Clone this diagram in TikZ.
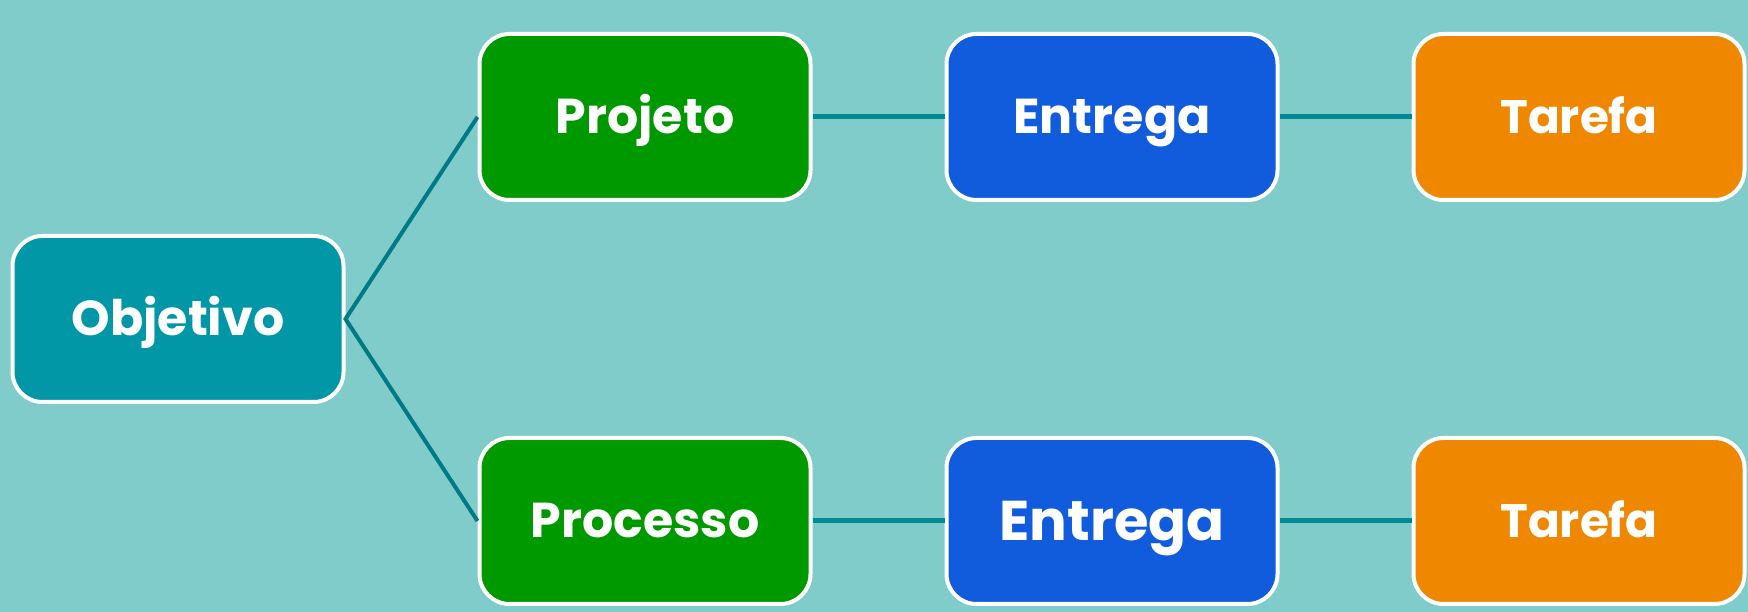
\documentclass[tikz,border=0pt]{standalone}
\usepackage{fontspec}
\setmainfont{Poppins}[BoldFont={* Bold}]
\usepackage{xcolor}
\usepackage{tikz}
\usetikzlibrary{positioning}
\definecolor{BgTeal}{HTML}{80CCCA}
\definecolor{GoalTeal}{HTML}{0297A6}
\definecolor{PlanGreen}{HTML}{009900}
\definecolor{DeliveryBlue}{HTML}{105CDD}
\definecolor{TaskOrange}{HTML}{EF8800}
\definecolor{LinkTeal}{HTML}{007B85}
\definecolor{RowTeal}{HTML}{008A96}

\begin{document}
\begin{tikzpicture}[x=1pt, y=1pt, node distance=32pt and 132pt,
    every node/.style={align=center, text=white, font=\bfseries\fontsize{49}{58}\selectfont},
    box/.style={draw=white, line width=4pt, rounded corners=30pt, minimum width=331pt, minimum height=166pt,
      text height=34pt, text depth=0pt},
    big/.style={font=\bfseries\fontsize{56}{66}\selectfont, text height=39pt},
    small/.style={font=\bfseries\fontsize{47}{56}\selectfont, text height=33pt}]
      % Background
      \fill[BgTeal] (0,0) rectangle (1748,612);
      \useasboundingbox (0,0) rectangle (1748,612);
      % Nodes
      \node[box, fill=GoalTeal] (goal) at (178,293) {Objetivo};
      \node[box, fill=PlanGreen, above right=of goal] (project) {Projeto};
      \node[box, fill=DeliveryBlue, right=of project] (deliv1) {Entrega};
      \node[box, fill=TaskOrange, right=of deliv1, small] (task1) {Tarefa};
      \node[box, fill=PlanGreen, below right=of goal] (process) {Processo};
      \node[box, fill=DeliveryBlue, right=of process, big] (deliv2) {Entrega};
      \node[box, fill=TaskOrange, right=of deliv2, small] (task2) {Tarefa};
      % Lines
      \draw[LinkTeal, line width=4pt] (process.west) -- (goal.east) -- (project.west);
      \draw[RowTeal, line width=5pt] (project) -- (deliv1);
      \draw[RowTeal, line width=5pt] (deliv1) -- (task1);
      \draw[RowTeal, line width=5pt] (process) -- (deliv2);
      \draw[RowTeal, line width=5pt] (deliv2) -- (task2);
\end{tikzpicture}
\end{document}
